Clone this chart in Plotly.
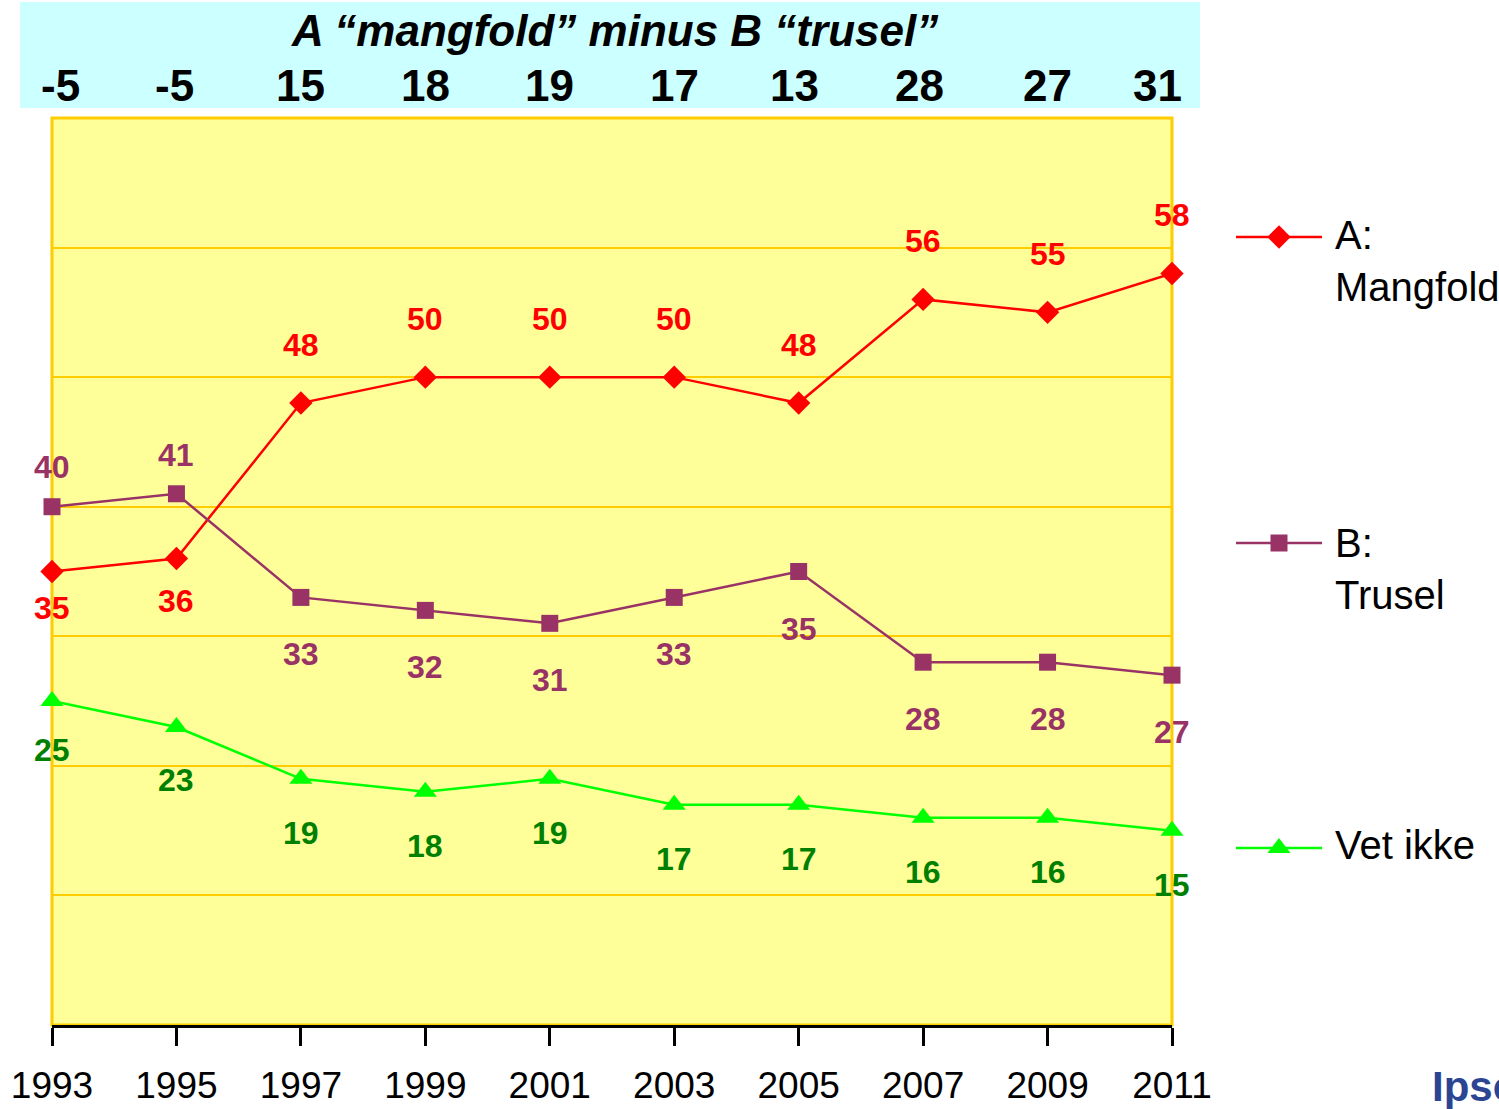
import plotly.graph_objects as go

years = [1993, 1995, 1997, 1999, 2001, 2003, 2005, 2007, 2009, 2011]
mangfold = [35, 36, 48, 50, 50, 50, 48, 56, 55, 58]
trusel = [40, 41, 33, 32, 31, 33, 35, 28, 28, 27]
vet_ikke = [25, 23, 19, 18, 19, 17, 17, 16, 16, 15]
differences = [a - b for a, b in zip(mangfold, trusel)]

# label placement (pixel offsets, up positive)
mangfold_lab = [-36, -42, 58, 58, 58, 58, 58, 58, 58, 58]
trusel_lab = [40, 39, -57, -57, -57, -57, -57, -57, -57, -57]
vet_lab = [-49, -53, -54, -54, -54, -54, -54, -54, -54, -54]

RED = "#FF0000"
PURPLE = "#993366"
GREEN = "#00FF00"
DKGREEN = "#008000"
GOLD = "#FFCC00"
FONT = "Liberation Sans, Arial, sans-serif"

W, H = 1499, 1109
L, R, T, B = 52, 0, 118, 84
PW = W - L - R
PH = H - T - B


def px_x(p):
    return (p - L) / PW


def px_y(p):
    return (H - B - p) / PH


fig = go.Figure()

series = [
    ("A: Mangfold", mangfold, RED, RED, "diamond", 18, mangfold_lab),
    ("B: Trusel", trusel, PURPLE, PURPLE, "square", 17, trusel_lab),
    ("Vet ikke", vet_ikke, GREEN, DKGREEN, "triangle-up", 20, vet_lab),
]

annotations = []
for name, vals, col, labcol, sym, msize, offs in series:
    fig.add_trace(go.Scatter(
        x=years, y=vals, mode="lines+markers", name=name,
        line=dict(color=col, width=2.5),
        marker=dict(symbol=sym, size=msize, color=col),
        cliponaxis=False, showlegend=False,
    ))
    for xv, yv, o in zip(years, vals, offs):
        annotations.append(dict(
            x=xv, y=yv, xref="x", yref="y", text=f"<b>{yv}</b>",
            showarrow=False, yshift=o, yanchor="middle", xanchor="center",
            font=dict(family=FONT, size=32, color=labcol),
        ))

# custom legend (drawn on its own hidden axes)
legend_rows = [
    ("A:<br>Mangfold", RED, "diamond", 18, 237, 261),
    ("B:<br>Trusel", PURPLE, "square", 17, 543, 569),
    ("Vet ikke", GREEN, "triangle-up", 20, 848, 845),
]
for text, col, sym, msize, ly, ty in legend_rows:
    yv = (H - B - ly) / PH * 70
    fig.add_trace(go.Scatter(
        x=[0, 1], y=[yv, yv], mode="lines", xaxis="x2", yaxis="y2",
        line=dict(color=col, width=2.5),
        cliponaxis=False, showlegend=False, hoverinfo="skip",
    ))
    fig.add_trace(go.Scatter(
        x=[0.5], y=[yv], mode="markers", xaxis="x2", yaxis="y2",
        marker=dict(symbol=sym, size=msize, color=col, opacity=1),
        cliponaxis=False, showlegend=False, hoverinfo="skip",
    ))
    annotations.append(dict(
        x=px_x(1333), y=px_y(ty), xref="paper", yref="paper",
        xanchor="left", yanchor="middle", align="left", text=text,
        showarrow=False, font=dict(family=FONT, size=40, color="black"),
    ))

# header: title and differences
annotations.append(dict(
    x=px_x(614), y=px_y(31), xref="paper", yref="paper",
    xanchor="center", yanchor="middle",
    text="<b><i>A “mangfold” minus B “trusel”</i></b>", showarrow=False,
    font=dict(family=FONT, size=44, color="black"),
))
diff_shift = [8, -2, 0, 0, 0, 0, -4, -4, 0, -15]
for xv, d, s in zip(years, differences, diff_shift):
    annotations.append(dict(
        x=xv, y=px_y(85), xref="x", yref="paper", text=f"<b>{d}</b>",
        showarrow=False, xshift=s, xanchor="center", yanchor="middle",
        font=dict(family=FONT, size=44, color="black"),
    ))

# Ipsos logo text (cut by the page edge, as in the original)
annotations.append(dict(
    x=px_x(1430), y=px_y(1086), xref="paper", yref="paper",
    xanchor="left", yanchor="middle", text="<b>Ipsos</b>", showarrow=False,
    font=dict(family=FONT, size=42, color="#2B4592"),
))

shapes = [
    dict(type="rect", xref="paper", yref="paper",
         x0=px_x(20), x1=px_x(1200), y0=px_y(108), y1=px_y(2),
         fillcolor="#CCFFFF", line=dict(width=0), layer="below"),
    dict(type="rect", xref="paper", yref="paper",
         x0=0, x1=px_x(1172), y0=0, y1=1,
         fillcolor="#FFFF99", line=dict(color=GOLD, width=3), layer="below"),
]

fig.update_layout(
    width=W, height=H, autosize=False,
    margin=dict(l=L, r=R, t=T, b=B, pad=0, autoexpand=False),
    paper_bgcolor="white",
    plot_bgcolor="rgba(0,0,0,0)",
    annotations=annotations,
    shapes=shapes,
    xaxis=dict(
        domain=[0, px_x(1172)], range=[1993, 2011], automargin=False,
        tickmode="array", tickvals=years, ticktext=[str(y) for y in years],
        showgrid=False, zeroline=False,
        showline=True, linecolor="black", linewidth=3,
        ticks="outside", ticklen=18, tickwidth=3, tickcolor="black",
        ticklabelstandoff=8,
        tickfont=dict(family=FONT, size=37, color="black"),
    ),
    xaxis2=dict(
        domain=[px_x(1236), px_x(1322)], range=[0, 1], anchor="y2",
        visible=False, automargin=False,
    ),
    yaxis=dict(
        range=[0, 70], dtick=10, showticklabels=False, automargin=False,
        showgrid=True, gridcolor=GOLD, gridwidth=2,
        zeroline=False, showline=False,
    ),
    yaxis2=dict(
        range=[0, 70], anchor="x2", visible=False, showgrid=False,
        automargin=False,
    ),
)

fig.write_html(
    "out.html",
    config={"displayModeBar": False},
    post_script="document.body.style.margin='0';document.body.style.overflow='hidden';",
)
